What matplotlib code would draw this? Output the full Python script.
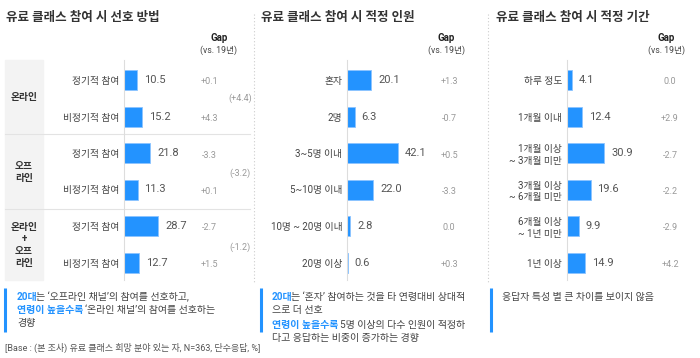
import matplotlib
matplotlib.use('Agg')
import matplotlib.pyplot as plt
import numpy as np

plt.rcParams['font.family'] = ['Roboto', 'Noto Sans CJK KR', 'DejaVu Sans']

titles = ['유료 클래스 참여 시 선호 방법', '유료 클래스 참여 시 적정 인원', '유료 클래스 참여 시 적정 기간']

method_labels = ['정기적 참여', '비정기적 참여'] * 3
method_values = [10.5, 15.2, 21.8, 11.3, 28.7, 12.7]
method_gaps = ['+0.1', '+4.3', '-3.3', '+0.1', '-2.7', '+1.5']
group_labels = ['온라인', '오프\n라인', '온라인\n+\n오프\n라인']
group_gaps = ['(+4.4)', '(-3.2)', '(-1.2)']

size_labels = ['혼자', '2명', '3~5명 이내', '5~10명 이내', '10명 ~ 20명 이내', '20명 이상']
size_values = [20.1, 6.3, 42.1, 22.0, 2.8, 0.6]
size_gaps = ['+1.3', '-0.7', '+0.5', '-3.3', '0.0', '+0.3']

period_labels = ['하루 정도', '1개월 이내', '1개월 이상\n~ 3개월 미만', '3개월 이상\n~ 6개월 미만',
                 '6개월 이상\n~ 1년 미만', '1년 이상']
period_values = [4.1, 12.4, 30.9, 19.6, 9.9, 14.9]
period_gaps = ['0.0', '+2.9', '-2.7', '-2.2', '-2.9', '+4.2']

BLUE = '#2393ff'
DARK = '#444444'
GRAY = '#999999'

W, H = 700, 358
fig = plt.figure(figsize=(W / 100, H / 100), dpi=100)
ov = fig.add_axes([0, 0, 1, 1])
ov.set_xlim(0, W)
ov.set_ylim(H, 0)
ov.axis('off')

top, bottom = 60, 280
row0, step = 80, 36.5
px_per_unit = 1.2


def bar_panel(x0, labels, values):
    ax = fig.add_axes([x0 / W, 1 - bottom / H, 110 / W, (bottom - top) / H])
    ax.patch.set_alpha(0)
    y = np.arange(len(values))
    ax.barh(y, values, height=20 / step, color=BLUE, edgecolor='#8cc4ff', linewidth=0.6)
    ax.set_xlim(0, 110 / px_per_unit)
    ax.set_ylim(5 + (bottom - (row0 + 5 * step)) / step, -(row0 - top) / step)
    ax.set_yticks(y)
    ax.set_yticklabels(labels, fontsize=7, color=DARK, linespacing=1.2)
    ax.tick_params(axis='y', length=0, pad=3.5)
    ax.set_xticks([])
    for s in ['top', 'right', 'bottom']:
        ax.spines[s].set_visible(False)
    ax.spines['left'].set_color('#dddddd')
    for yi, v in zip(y, values):
        ax.annotate(f'{v:.1f}', (v, yi), xytext=(5, 0), textcoords='offset points',
                    va='center', ha='left', fontsize=8, color='#555555')
    return ax


# panel 1 group backgrounds
ov.add_patch(plt.Rectangle((5, top), 38, bottom - top, color='#f3f3f3', zorder=0))
for yy in [134, 209]:
    ov.plot([5, 250], [yy, yy], color='#e3e3e3', lw=0.8)
for lab, yy in zip(group_labels, [97, 172, 245]):
    ov.text(24, yy, lab, ha='center', va='center', fontsize=7, fontweight='bold',
            color='#333333', linespacing=1.25)
for g, yy in zip(group_gaps, [98, 173, 247]):
    ov.text(240, yy, g, ha='center', va='center', fontsize=6.5, color=GRAY)

panels = [
    (124, method_labels, method_values, method_gaps, 209, 219, 6),
    (347, size_labels, size_values, size_gaps, 449, 446, 261),
    (567, period_labels, period_values, period_gaps, 670, 666, 496),
]
for (x0, labels, values, gaps, gx, hx, tx), title in zip(panels, titles):
    bar_panel(x0, labels, values)
    ov.text(tx, 18, title, ha='left', va='center', fontsize=9, fontweight='bold', color='#333333')
    ov.text(hx, 38, 'Gap', ha='center', va='center', fontsize=7, fontweight='bold', color='#222222')
    ov.text(hx, 50, '(vs. 19년)', ha='center', va='center', fontsize=6.3, color='#444444')
    for i, g in enumerate(gaps):
        ov.text(gx, row0 + i * step + 2, g, ha='center', va='center', fontsize=6.5, color=GRAY)

# dotted separators
for xx in [254, 488]:
    ov.plot([xx, xx], [14, 282], ls=(0, (1, 2)), color='#cccccc', lw=0.8)

# notes
renderer = fig.canvas.get_renderer()


def rich(x, y, parts, size=7.2):
    for s, c, w in parts:
        if s.startswith(' '):
            x += 3
            s = s.lstrip()
        t = ov.text(x, y, s, color=c, fontweight=w, fontsize=size, va='center', ha='left')
        x += t.get_window_extent(renderer=renderer).width - 1.5


for bx in [5, 261, 491]:
    ov.plot([bx, bx], [288, 332], color=BLUE, lw=2.2, solid_capstyle='butt')

rich(17, 297, [('20대', BLUE, 'bold'), ('는 ‘오프라인 채널’의 참여를 선호하고,', DARK, 'normal')])
rich(17, 310, [('연령이 높을수록', BLUE, 'bold'), (' ‘온라인 채널’의 참여를 선호하는', DARK, 'normal')])
rich(17, 323, [('경향', DARK, 'normal')])

rich(272, 297, [('20대', BLUE, 'bold'), ('는 ‘혼자’ 참여하는 것을 타 연령대비 상대적', DARK, 'normal')])
rich(272, 310, [('으로 더 선호', DARK, 'normal')])
rich(272, 325, [('연령이 높을수록', BLUE, 'bold'), (' 5명 이상의 다수 인원이 적정하', DARK, 'normal')])
rich(272, 338, [('다고 응답하는 비중이 증가하는 경향', DARK, 'normal')])

rich(502, 297, [('응답자 특성 별 큰 차이를 보이지 않음', DARK, 'normal')])

ov.text(5, 348, '[Base : (본 조사) 유료 클래스 희망 분야 있는 자, N=363, 단수응답, %]',
        ha='left', va='center', fontsize=6.5, color='#555555')

fig.savefig('out.png', dpi=100)
